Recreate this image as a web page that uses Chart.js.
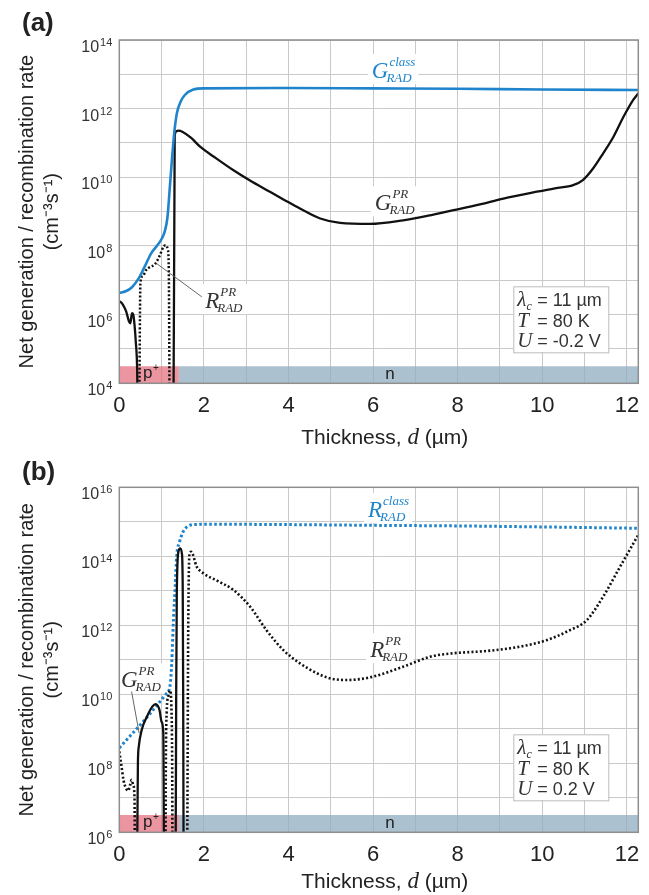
<!DOCTYPE html>
<html>
<head>
<meta charset="utf-8">
<script src="https://cdn.jsdelivr.net/npm/chart.js@4.4.1/dist/chart.umd.min.js"></script>
<style>
  body { margin: 0; background: #fff; }
  canvas { position: absolute; left: 0; }
  #chartA { top: 0; }
  #chartB { top: 455px; }
</style>
</head>
<body>
<canvas id="chartA" width="649" height="455"></canvas>
<canvas id="chartB" width="649" height="440"></canvas>
<script>
const SANS = '"Liberation Sans", Arial, sans-serif';
const SERIF = '"Liberation Serif", "Times New Roman", serif';
const BLUE = "#1f84cc";
const INK = "#222";

// thickness axis (µm)
const xMax = 12.27;
const junction = 1.41; // p+ / n boundary
const xTicks = [0, 1, 2, 3, 4, 5, 6, 7, 8, 9, 10, 11, 12];

// (a) reverse bias, U = -0.2 V
const decadesA = [4, 5, 6, 7, 8, 9, 10, 11, 12, 13, 14];
const gClassA_x = [0, 0.15, 0.3, 0.45, 0.6, 0.75, 0.9, 1.0, 1.08, 1.14, 1.2, 1.25, 1.3, 1.36, 1.45, 1.55, 1.75, 2.0, 4, 6, 8, 10, 12.27];
const gClassA_y = [4.3e6, 4.8e6, 6.3e6, 1.1e7, 2.5e7, 6.0e7, 1.05e8, 1.6e8, 2.8e8, 7.1e8, 6.3e9, 4.0e10, 2.0e11, 7.2e11, 1.6e12, 2.5e12, 3.6e12, 3.9e12, 4.0e12, 3.9e12, 3.8e12, 3.6e12, 3.5e12];
const gPrA_x = [0, 0.08, 0.16, 0.23, 0.26, 0.3, 0.33, 0.36, 0.39, 0.42, 0.44, 1.28, 1.31, 1.35, 1.4, 1.5, 1.7, 1.91, 2.3, 2.7, 3.1, 3.48, 3.9, 4.27, 4.75, 5.22, 5.93, 6.71, 7.3, 7.9, 8.5, 9.08, 9.87, 10.3, 10.73, 10.96, 11.2, 11.44, 11.68, 11.92, 12.15, 12.27];
const gPrA_y = [2.5e6, 2.0e6, 1.26e6, 6.3e5, 5.6e5, 1.1e6, 1.0e6, 5.0e5, 1.6e5, 3.2e4, 1e3, 1e3, 1.6e11, 2.2e11, 2.3e11, 2.1e11, 1.4e11, 7.8e10, 3.5e10, 1.6e10, 7.9e9, 4.3e9, 2.2e9, 1.23e9, 6.3e8, 4.7e8, 4.4e8, 5.6e8, 7.6e8, 1.1e9, 1.6e9, 2.4e9, 3.8e9, 4.8e9, 5.9e9, 8.3e9, 1.8e10, 5.0e10, 1.5e11, 5.8e11, 1.8e12, 2.8e12];
const rPrA_x = [0.47, 0.5, 0.55, 0.63, 0.74, 0.84, 0.96, 1.05, 1.1, 1.15, 1.17, 1.19];
const rPrA_y = [1e3, 8.9e6, 1.3e7, 1.95e7, 2.5e7, 2.9e7, 5.4e7, 9.8e7, 1.05e8, 7.6e7, 2.0e7, 1e3];

// (b) forward bias, U = 0.2 V
const decadesB = [6, 7, 8, 9, 10, 11, 12, 13, 14, 15, 16];
const rClassB_x = [0, 0.3, 0.6, 0.9, 1.1, 1.2, 1.24, 1.28, 1.32, 1.36, 1.42, 1.51, 1.6, 1.75, 2.07, 4, 6, 8, 10, 12.27];
const rClassB_y = [2.8e8, 7.1e8, 1.8e9, 5.0e9, 1.0e10, 1.8e10, 7.9e10, 1.45e12, 1.26e13, 1.12e14, 2.5e14, 5.2e14, 7.1e14, 8.3e14, 8.5e14, 8.3e14, 7.9e14, 7.6e14, 7.1e14, 6.5e14];
const gPrB_x = [0.42, 0.44, 0.46, 0.53, 0.65, 0.78, 0.86, 0.95, 1.0, 1.04, 1.06, 1.33, 1.345, 1.36, 1.4, 1.44, 1.48, 1.5, 1.51, 1.52];
const gPrB_y = [1e5, 1e8, 3.0e8, 9.3e8, 2.2e9, 4.4e9, 5.2e9, 3.5e9, 1.6e9, 7.4e8, 1e5, 1e5, 1e10, 1e13, 1.4e14, 1.7e14, 1.2e14, 1e13, 1e10, 1e5];
const rPrB_x = [0, 0.05, 0.1, 0.15, 0.21, 0.26, 0.29, 0.33, 0.36, 0.37, 1.09, 1.1, 1.12, 1.16, 1.2, 1.23, 1.25, 1.26, 1.6, 1.63, 1.66, 1.7, 1.83, 1.99, 2.3, 2.7, 3.09, 3.48, 3.88, 4.27, 4.67, 4.98, 5.38, 5.93, 6.71, 7.35, 7.9, 8.69, 9.47, 10.1, 10.65, 11.05, 11.44, 11.84, 12.27];
const rPrB_y = [2.2e8, 8.5e7, 3.2e7, 2.0e7, 1.6e7, 2.5e7, 3.3e7, 2.3e7, 1.0e7, 1e5, 1e5, 1e8, 3e9, 9e9, 1.3e10, 5e9, 1e8, 1e5, 1e5, 1e12, 1.2e14, 1.35e14, 5e13, 3.2e13, 2.0e13, 1.05e13, 3.5e12, 7.2e11, 1.9e11, 7.9e10, 4.1e10, 2.9e10, 2.6e10, 3.1e10, 6.3e10, 1.23e11, 1.55e11, 1.8e11, 2.4e11, 3.7e11, 7.2e11, 1.4e12, 6.8e12, 5.0e13, 4.2e14];

const pts = (xs, ys) => xs.map((x, i) => ({ x, y: ys[i] }));

function curve(xs, ys, color, width, dash) {
  return {
    data: pts(xs, ys),
    borderColor: color,
    borderWidth: width,
    borderDash: dash || [],
    pointRadius: 0,
    cubicInterpolationMode: "monotone",
    fill: false,
  };
}
// doping regions along the bottom of the plot
function band(x0, x1, top, color) {
  return {
    data: [{ x: x0, y: top }, { x: x1, y: top }],
    borderWidth: 0,
    pointRadius: 0,
    fill: "start",
    backgroundColor: color,
  };
}

function labelWidths(ctx, lab) {
  ctx.font = `italic 23px ${SERIF}`;
  const w = ctx.measureText(lab.main).width;
  ctx.font = `italic 13px ${SERIF}`;
  const ws = Math.max(ctx.measureText(lab.sup).width, ctx.measureText(lab.sub).width);
  return [w, ws];
}

function rateLabel(ctx, px, py, lab) {
  const [w] = labelWidths(ctx, lab);
  ctx.fillStyle = lab.color;
  ctx.font = `italic 23px ${SERIF}`;
  ctx.fillText(lab.main, px, py);
  ctx.font = `italic 13px ${SERIF}`;
  ctx.fillText(lab.sup, px + w + 1, py - 12);
  ctx.fillText(lab.sub, px + w - 2, py + 4);
}

const decorations = {
  id: "decorations",
  beforeDatasetsDraw(chart, args, opts) {
    // white patches behind curve names, under the curves
    const { ctx, scales } = chart;
    ctx.save();
    ctx.fillStyle = "#fff";
    opts.labels.forEach(lab => {
      const [w, ws] = labelWidths(ctx, lab);
      const px = scales.x.getPixelForValue(lab.x);
      const py = scales.y.getPixelForValue(lab.y);
      ctx.fillRect(px - 4, py - 24, w + ws + 8, 30);
    });
    ctx.restore();
  },
  afterDatasetsDraw(chart, args, opts) {
    const { ctx, chartArea: a, scales } = chart;
    const X = v => scales.x.getPixelForValue(v);
    const Y = v => scales.y.getPixelForValue(v);
    ctx.save();
    ctx.strokeStyle = "#8f8f8f";
    ctx.lineWidth = 1.5;
    ctx.strokeRect(a.left, a.top, a.right - a.left, a.bottom - a.top);

    // region names
    ctx.fillStyle = INK;
    ctx.textAlign = "left";
    ctx.textBaseline = "alphabetic";
    ctx.font = `17px ${SANS}`;
    ctx.fillText("p", X(0.56), a.bottom - 5);
    ctx.font = `10px ${SANS}`;
    ctx.fillText("+", X(0.56) + 10, a.bottom - 12);
    ctx.font = `17px ${SANS}`;
    ctx.textAlign = "center";
    ctx.fillText("n", X(6.4), a.bottom - 4);
    ctx.textAlign = "left";

    // curve names
    opts.labels.forEach(lab => {
      if (lab.lead) {
        ctx.strokeStyle = "#666";
        ctx.lineWidth = 1;
        ctx.beginPath();
        ctx.moveTo(X(lab.lead[0]), Y(lab.lead[1]));
        ctx.lineTo(X(lab.lead[2]), Y(lab.lead[3]));
        ctx.stroke();
      }
      rateLabel(ctx, X(lab.x), Y(lab.y), lab);
    });

    // parameter box
    const bw = 95, bh = 66;
    const bx = a.right - 30 - bw, by = a.bottom - opts.boxGap - bh;
    ctx.fillStyle = "#fff";
    ctx.fillRect(bx, by, bw, bh);
    ctx.strokeStyle = "#bdbdbd";
    ctx.lineWidth = 1;
    ctx.strokeRect(bx + 0.5, by + 0.5, bw, bh);
    opts.params.forEach((p, i) => {
      const base = by + 20 + i * 20.5;
      ctx.fillStyle = "#333";
      ctx.font = `italic 21px ${SERIF}`;
      ctx.fillText(p[0], bx + 4, base);
      if (p[1]) {
        const w = ctx.measureText(p[0]).width;
        ctx.font = `italic 12px ${SERIF}`;
        ctx.fillText(p[1], bx + 4 + w, base + 4);
      }
      ctx.font = `18px ${SANS}`;
      ctx.fillText(p[2], bx + 24, base);
    });
    ctx.restore();
  },
  afterDraw(chart, args, opts) {
    const { ctx, chartArea: a, scales } = chart;
    ctx.save();
    ctx.fillStyle = INK;
    ctx.textBaseline = "alphabetic";
    ctx.textAlign = "left";

    // decade labels 10^n on every second grid line
    opts.decades.forEach(e => {
      if (e % 2) return;
      const py = scales.y.getPixelForValue(Math.pow(10, e));
      ctx.font = `11px ${SANS}`;
      const ew = ctx.measureText(String(e)).width;
      ctx.font = `16px ${SANS}`;
      const bw = ctx.measureText("10").width;
      const right = a.left - 7;
      ctx.fillStyle = "#333";
      ctx.fillText("10", right - ew - bw - 1, py + 12);
      ctx.font = `11px ${SANS}`;
      ctx.fillText(String(e), right - ew, py + 6);
    });

    // axis title with italic d
    ctx.fillStyle = INK;
    const parts = [["Thickness, ", `21px ${SANS}`], ["d", `italic 23px ${SERIF}`], [" (µm)", `21px ${SANS}`]];
    let total = 0;
    parts.forEach(p => { ctx.font = p[1]; total += ctx.measureText(p[0]).width; });
    let px = (a.left + a.right) / 2 + 6 - total / 2;
    const base = a.bottom + opts.titleGap;
    parts.forEach(p => {
      ctx.font = p[1];
      ctx.fillText(p[0], px, base);
      px += ctx.measureText(p[0]).width;
    });
    ctx.font = `bold 26px ${SANS}`;
    ctx.fillText(opts.letter, 22, opts.letterY);
    ctx.restore();
  },
};

function makeChart(id, cfg) {
  return new Chart(document.getElementById(id), {
    type: "line",
    data: { datasets: cfg.datasets },
    options: {
      responsive: false,
      animation: false,
      layout: { padding: { left: 0, top: cfg.top, right: 10.7, bottom: 0 } },
      plugins: {
        legend: { display: false },
        tooltip: { enabled: false },
        decorations: Object.assign({ decades: cfg.decades }, cfg.deco),
      },
      scales: {
        x: {
          type: "linear",
          min: 0,
          max: xMax,
          afterBuildTicks: s => { s.ticks = xTicks.map(v => ({ value: v })); },
          afterFit: s => { s.height = cfg.xAxisH; },
          ticks: {
            autoSkip: false,
            maxRotation: 0,
            padding: 9,
            color: INK,
            font: { family: SANS, size: 22 },
            callback: v => (v % 2 === 0 ? String(v) : ""),
          },
          grid: { color: "#c9c9c9", lineWidth: 1, drawTicks: false },
          border: { display: false },
        },
        y: {
          type: "logarithmic",
          min: Math.pow(10, cfg.decades[0]),
          max: Math.pow(10, cfg.decades[cfg.decades.length - 1]),
          afterBuildTicks: s => { s.ticks = cfg.decades.map(e => ({ value: Math.pow(10, e) })); },
          afterFit: s => { s.width = 119.3; },
          ticks: { display: false },
          grid: { color: "#c9c9c9", lineWidth: 1, drawTicks: false },
          border: { display: false },
          title: {
            display: true,
            text: ["Net generation / recombination rate", "(cm⁻³s⁻¹)"],
            color: INK,
            font: { family: SANS, size: 20, lineHeight: 1.25 },
            padding: { top: 15, bottom: 0 },
          },
        },
      },
    },
    plugins: [decorations],
  });
}

makeChart("chartA", {
  top: 40,
  xAxisH: 71.7,
  decades: decadesA,
  datasets: [
    curve(gClassA_x, gClassA_y, BLUE, 2.6),
    curve(gPrA_x, gPrA_y, "#111", 2.3),
    curve(rPrA_x, rPrA_y, "#111", 2.5, [2, 2]),
    band(0, junction, 3.16e4, "rgba(226,108,124,0.72)"),
    band(junction, xMax, 3.16e4, "rgba(144,172,192,0.75)"),
  ],
  deco: {
    letter: "(a)",
    letterY: 31,
    titleGap: 61,
    boxGap: 31,
    labels: [
      { x: 5.97, y: 7.8e12, main: "G", sup: "class", sub: "RAD", color: BLUE },
      { x: 6.04, y: 1.1e9, main: "G", sup: "PR", sub: "RAD", color: "#333" },
      { x: 2.03, y: 1.55e6, main: "R", sup: "PR", sub: "RAD", color: "#333", lead: [0.88, 3.1e7, 1.95, 3.3e6] },
    ],
    params: [["λ", "c", "= 11 µm"], ["T", "", "= 80 K"], ["U", "", "= -0.2 V"]],
  },
});

makeChart("chartB", {
  top: 32.3,
  xAxisH: 62.7,
  decades: decadesB,
  datasets: [
    curve(gPrB_x, gPrB_y, "#111", 2.3),
    curve(rPrB_x, rPrB_y, "#111", 2.6, [2, 2.2]),
    curve(rClassB_x, rClassB_y, BLUE, 3, [2.6, 2.4]),
    band(0, junction, 3.16e6, "rgba(226,108,124,0.72)"),
    band(junction, xMax, 3.16e6, "rgba(144,172,192,0.75)"),
  ],
  deco: {
    letter: "(b)",
    letterY: 24.5,
    titleGap: 56,
    boxGap: 32,
    labels: [
      { x: 5.88, y: 1.38e15, main: "R", sup: "class", sub: "RAD", color: BLUE },
      { x: 5.93, y: 1.2e11, main: "R", sup: "PR", sub: "RAD", color: "#333" },
      { x: 0.04, y: 1.6e10, main: "G", sup: "PR", sub: "RAD", color: "#333", lead: [0.29, 1.2e10, 0.47, 7.4e8] },
    ],
    params: [["λ", "c", "= 11 µm"], ["T", "", "= 80 K"], ["U", "", "= 0.2 V"]],
  },
});
</script>
</body>
</html>
